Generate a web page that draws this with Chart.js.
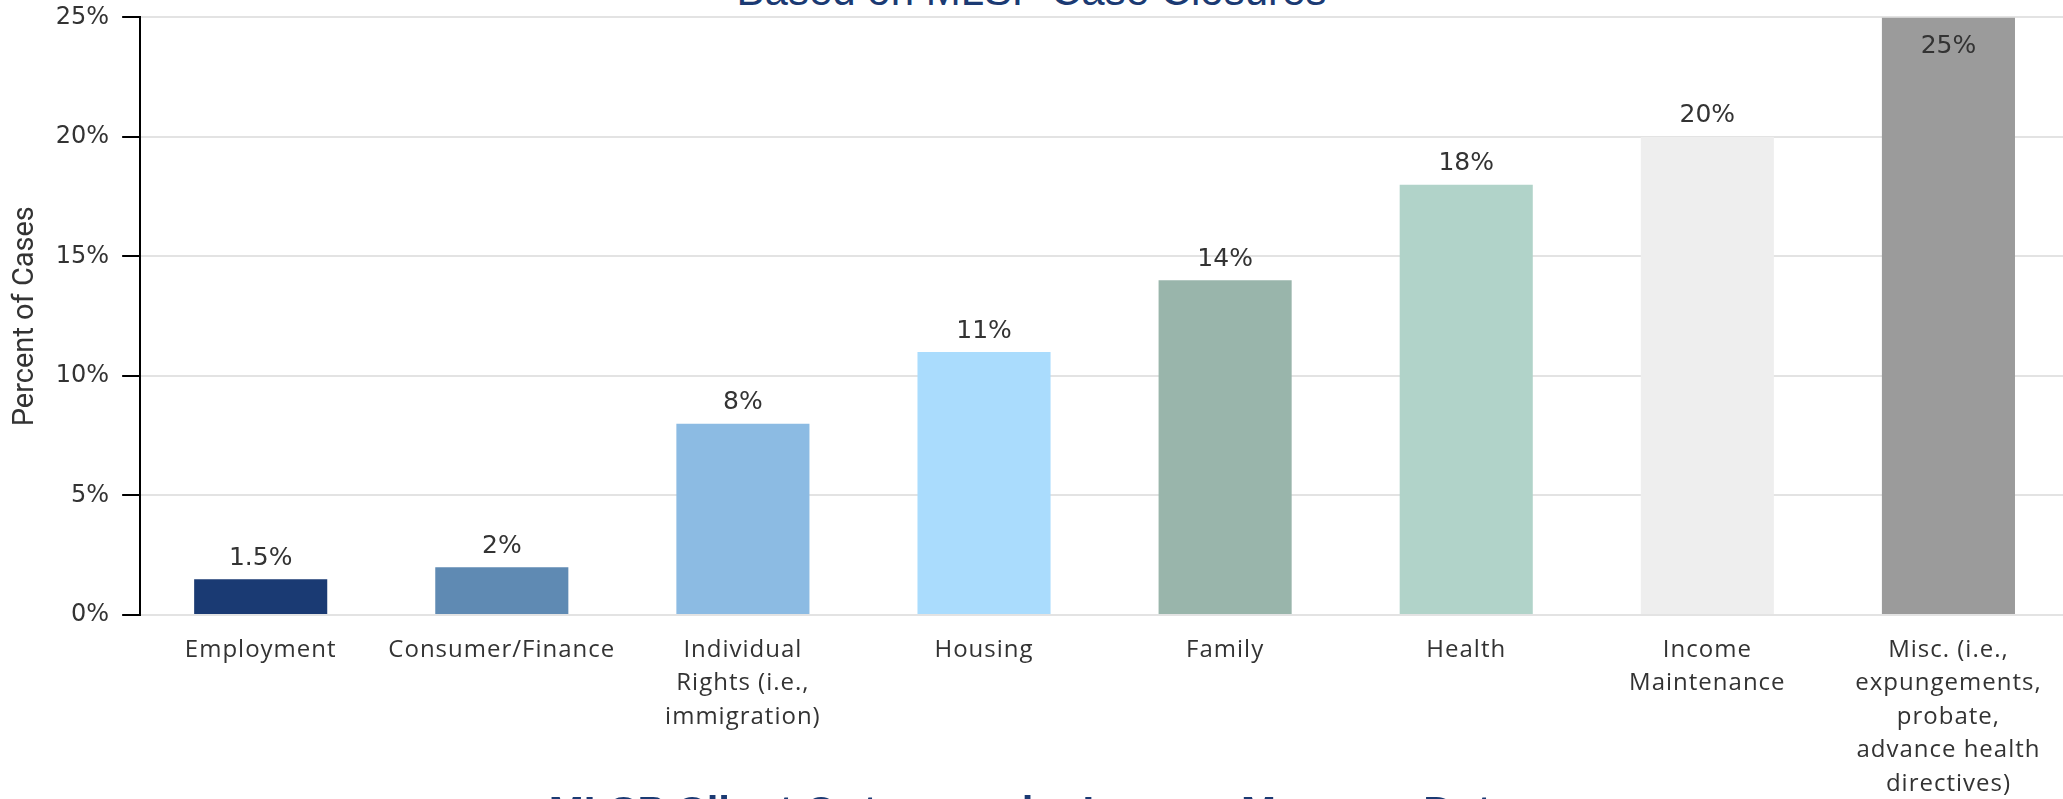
<!DOCTYPE html>
<html>
<head>
<meta charset="utf-8">
<title>Percent of Cases by Legal Problem</title>
<script src="https://cdn.jsdelivr.net/npm/chart.js@4"></script>
<style>
html, body { margin: 0; padding: 0; background: #fff; overflow: hidden; }
#wrap { position: relative; width: 2063px; height: 799px; overflow: hidden; }
#graph1 { position: absolute; left: 0; top: -10px; }
.heading { position: absolute; left: 0; width: 2063px; text-align: center; white-space: nowrap;
    font-family: "Liberation Sans", Arial, sans-serif; font-size: 42px; line-height: 42px; color: #1b3a73; }
#subtitle { top: -30px; }
#nextTitle { top: 791px; font-weight: bold; }
</style>
</head>
<body>
<div id="wrap">
    <div id="subtitle" class="heading">Based on MLSP Case Closures</div>
    <canvas id="graph1" width="2071" height="809"></canvas>
    <div id="nextTitle" class="heading">MLSP Client Outcomes by Income Measure Data</div>
</div>
<script>
    var categories = [
        ['Employment'],
        ['Consumer/Finance'],
        ['Individual', 'Rights (i.e.,', 'immigration)'],
        ['Housing'],
        ['Family'],
        ['Health'],
        ['Income', 'Maintenance'],
        ['Misc. (i.e.,', 'expungements,', 'probate,', 'advance health', 'directives)']
    ];
    var percentValues = [1.5, 2, 8, 11, 14, 18, 20, 25];
    var yTickValues = [0, 5, 10, 15, 20, 25];
    var barColors = ['#1a3a73', '#5f8ab3', '#8cbbe3', '#aadcfd', '#99b5ab', '#b1d3c9', '#eeeeee', '#9b9b9b'];

    // category axis whose labels are drawn with a bit of tracking
    class SpacedCategoryScale extends Chart.CategoryScale {
        drawLabels(chartArea) {
            this.ctx.save();
            this.ctx.letterSpacing = '1px';
            super.drawLabels(chartArea);
            this.ctx.restore();
        }
    }
    SpacedCategoryScale.id = 'spacedCategory';
    SpacedCategoryScale.defaults = Chart.CategoryScale.defaults;
    Chart.register(SpacedCategoryScale);

    // value over each bar (inside the bar when it reaches the top)
    var valueLabels = {
        id: 'valueLabels',
        afterDatasetsDraw: function(chart) {
            var ctx = chart.ctx;
            var meta = chart.getDatasetMeta(0);
            ctx.save();
            ctx.font = '25px "DejaVu Sans"';
            ctx.fillStyle = '#333333';
            ctx.textAlign = 'center';
            ctx.textBaseline = 'middle';
            meta.data.forEach(function(bar, i) {
                var y = bar.y - 21;
                if (y - 12 < chart.chartArea.top) {
                    y = bar.y + 29;
                }
                ctx.fillText(percentValues[i] + '%', bar.x, y);
            });
            ctx.restore();
        }
    };

window.onload = function() {
    Chart.defaults.font.family = '"Open Sans", sans-serif';
    var ctx = document.getElementById('graph1').getContext('2d');
    window.casesChart = new Chart(ctx, {
        type: 'bar',
        data: {
            labels: categories,
            datasets: [{
                data: percentValues,
                backgroundColor: barColors,
                borderWidth: 0,
                categoryPercentage: 1,
                barPercentage: 0.552
            }]
        },
        plugins: [valueLabels],
        options: {
            responsive: false,
            animation: false,
            layout: {
                padding: { top: 0, left: 0, right: 2, bottom: -20 }
            },
            plugins: {
                legend: { display: false },
                title: { display: false },
                tooltip: { enabled: false }
            },
            scales: {
                x: {
                    type: 'spacedCategory',
                    offset: true,
                    grid: { display: false, drawTicks: false },
                    border: { display: false },
                    ticks: {
                        color: '#333333',
                        font: { size: 24, lineHeight: 1.4 },
                        padding: 18,
                        maxRotation: 0,
                        autoSkip: false
                    }
                },
                y: {
                    min: 0,
                    max: 25,
                    afterBuildTicks: function(axis) {
                        axis.ticks = yTickValues.map(function(v) { return { value: v }; });
                    },
                    grid: {
                        color: '#e3e3e3',
                        lineWidth: 2,
                        tickColor: '#000000',
                        tickLength: 18,
                        tickWidth: 2
                    },
                    border: { color: '#000000', width: 2 },
                    ticks: {
                        color: '#333333',
                        font: { family: '"DejaVu Sans"', size: 24 },
                        padding: 13,
                        callback: function(value) { return value + '%'; }
                    },
                    title: {
                        display: true,
                        text: 'Percent of Cases',
                        color: '#333333',
                        font: { family: 'Roboto', size: 29 },
                        padding: { top: 8, bottom: 0 }
                    }
                }
            }
        }
    });
};
</script>
</body>
</html>
